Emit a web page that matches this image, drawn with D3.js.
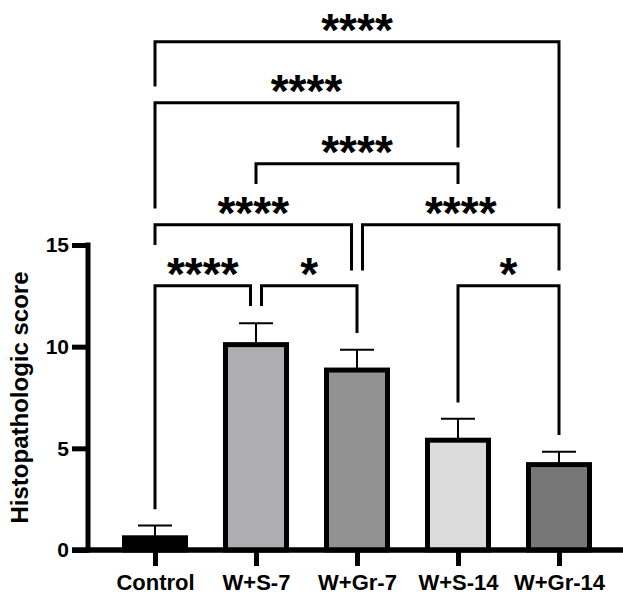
<!DOCTYPE html>
<html>
<head>
<meta charset="utf-8">
<script src="https://cdn.jsdelivr.net/npm/d3@7/dist/d3.min.js"></script>
<style>
  html, body { margin: 0; padding: 0; background: #fff; }
  svg { display: block; }
  text { font-family: "Liberation Sans", Arial, sans-serif; font-weight: bold; fill: #000; }
</style>
</head>
<body>
<svg id="chart" width="623" height="595"></svg>
<script>
// ---- data ----
const categories = ["Control", "W+S-7", "W+Gr-7", "W+S-14", "W+Gr-14"];
const means = [0.6, 10.1, 8.85, 5.4, 4.2];
const sds = [0.6, 1.05, 1.0, 1.05, 0.63];
const yTicks = [0, 5, 10, 15];
const yTitle = "Histopathologic score";
// comparisons: from index, to index, label, bracket level (data units), left/right leg ends (data units)
const compFrom  = [0, 0, 1, 0, 2, 0, 1, 3];
const compTo    = [4, 3, 3, 2, 4, 1, 2, 4];
const compLabel = ["****", "****", "****", "****", "****", "****", "*", "*"];
const compLevel = [25, 22, 19, 16, 16, 13, 13, 13];
const compLegL  = [22.8, 16.8, 18.0, 15.0, 13.75, 2.0, 12.0, 7.25];
const compLegR  = [16.8, 19.8, 18.0, 13.75, 13.75, 12.0, 10.67, 5.66];

// ---- styles ----
const fills = ["#000000", "#aeaeb2", "#929292", "#dcdcdc", "#777777"];

const svg = d3.select("#chart");

const x = d3.scalePoint().domain(categories).range([155, 559]);
const y = d3.scaleLinear().domain([0, 15]).range([550, 245]);
const barW = 61;

// y axis
const yAxis = svg.append("g").attr("transform", "translate(88,0)")
  .call(d3.axisLeft(y).tickValues(yTicks).tickSize(16).tickPadding(3).tickFormat(d3.format("d")));
yAxis.select(".domain").remove();
yAxis.selectAll(".tick line").attr("stroke", "#000").attr("stroke-width", 5);
yAxis.selectAll(".tick text").attr("font-size", 21).attr("font-family", "Liberation Sans, Arial, sans-serif")
  .attr("font-weight", "bold").attr("fill", "#000");
svg.append("line").attr("x1", 88).attr("x2", 88).attr("y1", y(15) - 2.5).attr("y2", y(0) + 2.5)
  .attr("stroke", "#000").attr("stroke-width", 5);

// x axis
const xAxis = svg.append("g").attr("transform", `translate(0,${y(0)})`)
  .call(d3.axisBottom(x).tickSize(16).tickPadding(8));
xAxis.select(".domain").remove();
xAxis.selectAll(".tick line").attr("stroke", "#000").attr("stroke-width", 5);
xAxis.selectAll(".tick text").attr("font-size", 22).attr("font-family", "Liberation Sans, Arial, sans-serif")
  .attr("font-weight", "bold").attr("fill", "#000");
svg.append("line").attr("x1", 72).attr("x2", 623).attr("y1", y(0)).attr("y2", y(0))
  .attr("stroke", "#000").attr("stroke-width", 5);

// error bars
const eb = svg.append("g");
categories.forEach((c, i) => {
  const cx = x(c);
  eb.append("line").attr("x1", cx).attr("x2", cx).attr("y1", y(means[i])).attr("y2", y(means[i] + sds[i]))
    .attr("stroke", "#000").attr("stroke-width", 2);
  eb.append("line").attr("x1", cx - 17).attr("x2", cx + 17).attr("y1", y(means[i] + sds[i])).attr("y2", y(means[i] + sds[i]))
    .attr("stroke", "#000").attr("stroke-width", 2);
});

// bars
svg.append("g").selectAll("rect").data(categories).join("rect")
  .attr("x", d => x(d) - barW / 2)
  .attr("width", barW)
  .attr("y", (d, i) => y(means[i]))
  .attr("height", (d, i) => y(0) - y(means[i]))
  .attr("fill", (d, i) => fills[i])
  .attr("stroke", "#000")
  .attr("stroke-width", 5);

// redraw x axis line over bar bottoms
svg.append("line").attr("x1", 72).attr("x2", 623).attr("y1", y(0)).attr("y2", y(0))
  .attr("stroke", "#000").attr("stroke-width", 5);

// brackets
const off = 5.5;
const br = svg.append("g");
compFrom.forEach((f, k) => {
  const t = compTo[k], lev = compLevel[k];
  let xl = x(categories[f]), xr = x(categories[t]);
  compFrom.forEach((f2, k2) => {
    if (k2 === k || compLevel[k2] !== lev) return;
    if (compTo[k2] === f) xl += off;
    if (compFrom[k2] === t) xr -= off;
  });
  br.append("path")
    .attr("d", `M${xl},${y(compLegL[k])}V${y(lev)}H${xr}V${y(compLegR[k])}`)
    .attr("fill", "none").attr("stroke", "#000").attr("stroke-width", 3)
    .attr("stroke-linejoin", "miter");
  br.append("text").attr("x", (xl + xr) / 2).attr("y", y(lev) + 4)
    .attr("text-anchor", "middle").attr("font-size", 46)
    .text(compLabel[k]);
});

// y title
svg.append("text").attr("transform", `translate(28,${(y(0) + y(15)) / 2}) rotate(-90)`)
  .attr("text-anchor", "middle").attr("font-size", 24).text(yTitle);
</script>
</body>
</html>
